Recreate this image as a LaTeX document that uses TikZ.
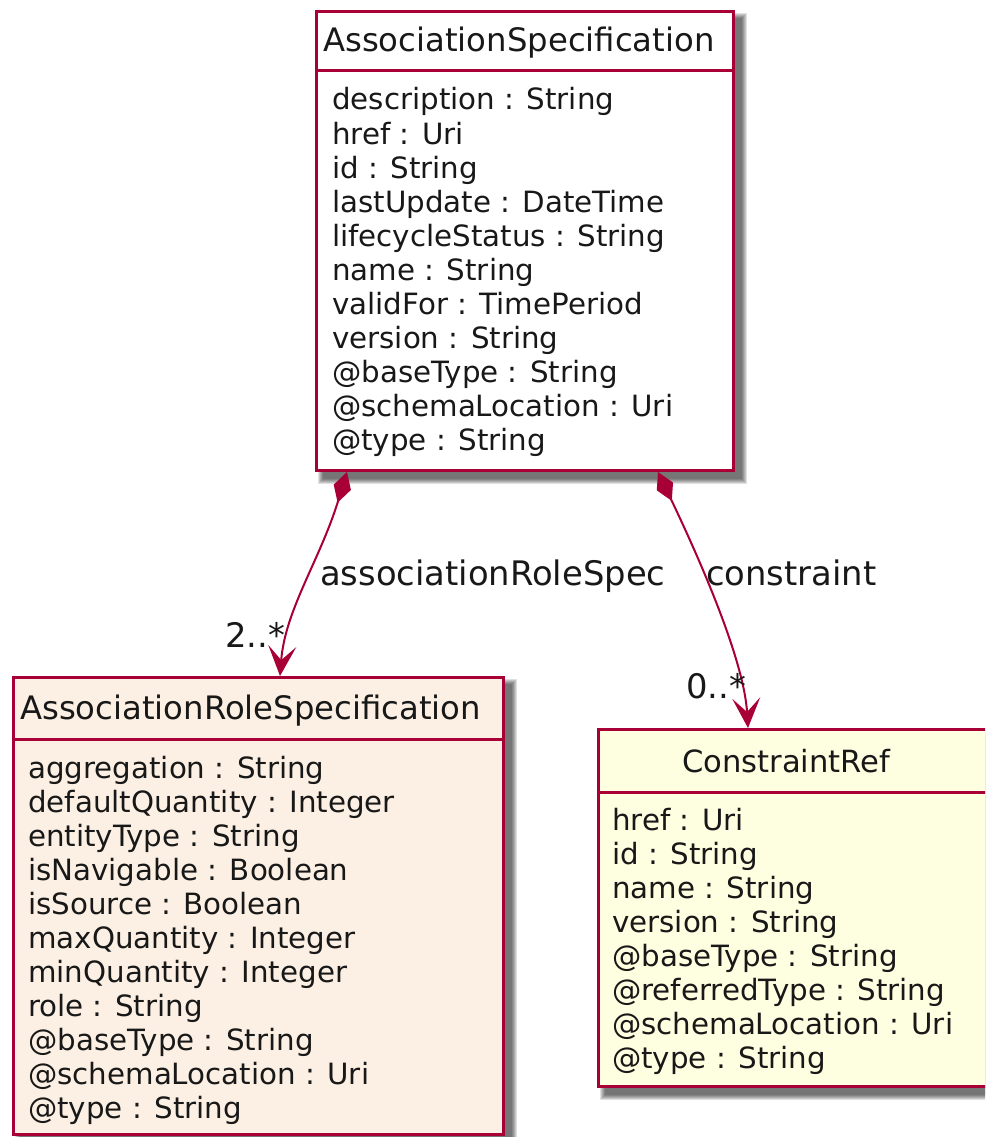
\documentclass[tikz,border=0pt]{standalone}
\usepackage{fontspec}
\setmainfont{DejaVu Sans}
\usetikzlibrary{arrows.meta}
\definecolor{umlred}{HTML}{A80036}
\definecolor{rolefill}{HTML}{FBF0E3}
\definecolor{reffill}{HTML}{FEFEE0}
\definecolor{txt}{HTML}{181818}
\tikzset{
  classbox/.style={draw=umlred, line width=3pt, rectangle, inner sep=0pt, anchor=north west},
  sepline/.style={draw=umlred, line width=3pt},
  hdr/.style={font=\fontsize{32.3}{38}\selectfont, anchor=base west, inner sep=0pt, text=txt},
  attr/.style={font=\fontsize{29.3}{34}\selectfont, anchor=base west, inner sep=0pt, text=txt},
  lbl/.style={font=\fontsize{33.8}{40}\selectfont, anchor=base west, inner sep=0pt, text=txt},
  conn/.style={draw=umlred, line width=2pt, {Diamond[length=32pt,width=18pt]}-{Stealth[length=30pt,width=28pt,inset=14pt]}},
}
\newcommand\dropshadow[4]{%
  \foreach \k in {0,1,2,3,4,5}{%
    \fill[black, opacity=0.12] ({#1+3+\k},{#2+3+\k}) rectangle ({#3+15-\k},{#4+15-\k});
  }%
}
\begin{document}
\begin{tikzpicture}[x=1pt,y=-1pt]
\useasboundingbox (0,0) rectangle (985,1137);
\clip (0,0) rectangle (985,1137);

% shadows
\dropshadow{315}{10}{732}{469}
\dropshadow{12}{676}{502}{1133}
\dropshadow{597}{728}{995}{1085}

% top class
\node[classbox, fill=white, minimum width=417pt, minimum height=459pt] (spec) at (315,10) {};
\draw[sepline] (315,71) -- (732,71);
\node[hdr] (specname) at (323,52) {AssociationSpecification};
\node[attr] (s1) at (332,110) {description : String};
\node[attr] (s2) at (332,144) {href : Uri};
\node[attr] (s3) at (332,178) {id : String};
\node[attr] (s4) at (332,212) {lastUpdate : DateTime};
\node[attr] (s5) at (332,246) {lifecycleStatus : String};
\node[attr] (s6) at (332,280) {name : String};
\node[attr] (s7) at (332,314) {validFor : TimePeriod};
\node[attr] (s8) at (332,348) {version : String};
\node[attr] (s9) at (332,382) {@baseType : String};
\node[attr] (s10) at (332,416) {@schemaLocation : Uri};
\node[attr] (s11) at (332,450) {@type : String};

% left class
\node[classbox, fill=rolefill, minimum width=490pt, minimum height=457pt] (role) at (12,676) {};
\draw[sepline] (12,739) -- (502,739);
\node[hdr] (rolename) at (20,719) {AssociationRoleSpecification};
\node[attr] (r1) at (28,778) {aggregation : String};
\node[attr] (r2) at (28,812) {defaultQuantity : Integer};
\node[attr] (r3) at (28,846) {entityType : String};
\node[attr] (r4) at (28,880) {isNavigable : Boolean};
\node[attr] (r5) at (28,914) {isSource : Boolean};
\node[attr] (r6) at (28,948) {maxQuantity : Integer};
\node[attr] (r7) at (28,982) {minQuantity : Integer};
\node[attr] (r8) at (28,1016) {role : String};
\node[attr] (r9) at (28,1050) {@baseType : String};
\node[attr] (r10) at (28,1084) {@schemaLocation : Uri};
\node[attr] (r11) at (28,1118) {@type : String};

% right class
\node[classbox, fill=reffill, minimum width=393pt, minimum height=357pt] (ref) at (597,728) {};
\draw[sepline] (597,792) -- (990,792);
\node[hdr, font=\fontsize{30.6}{36}\selectfont] (refname) at (682,772) {ConstraintRef};
\node[attr] (c1) at (612,830) {href : Uri};
\node[attr] (c2) at (612,864) {id : String};
\node[attr] (c3) at (612,898) {name : String};
\node[attr] (c4) at (612,932) {version : String};
\node[attr] (c5) at (612,966) {@baseType : String};
\node[attr] (c6) at (612,1000) {@referredType : String};
\node[attr] (c7) at (612,1034) {@schemaLocation : Uri};
\node[attr] (c8) at (612,1068) {@type : String};

% connector end points
\coordinate (d1) at ([xshift=32pt]spec.south west);
\coordinate (t1) at ([xshift=268pt]role.north west);
\coordinate (d2) at ([xshift=343pt]spec.south west);
\coordinate (t2) at ([xshift=151pt]ref.north west);

\draw[conn] (d1) .. controls (320,560) and (285,610) .. (t1);
\draw[conn] (d2) .. controls (700,560) and (744,660) .. (t2);

\node[lbl] (l1) at (320,585) {associationRoleSpec};
\node[lbl] (l2) at (706,585) {constraint};
\node[lbl] (m1) at (225,647) {2..*};
\node[lbl] (m2) at (686,698) {0..*};
\end{tikzpicture}
\end{document}
